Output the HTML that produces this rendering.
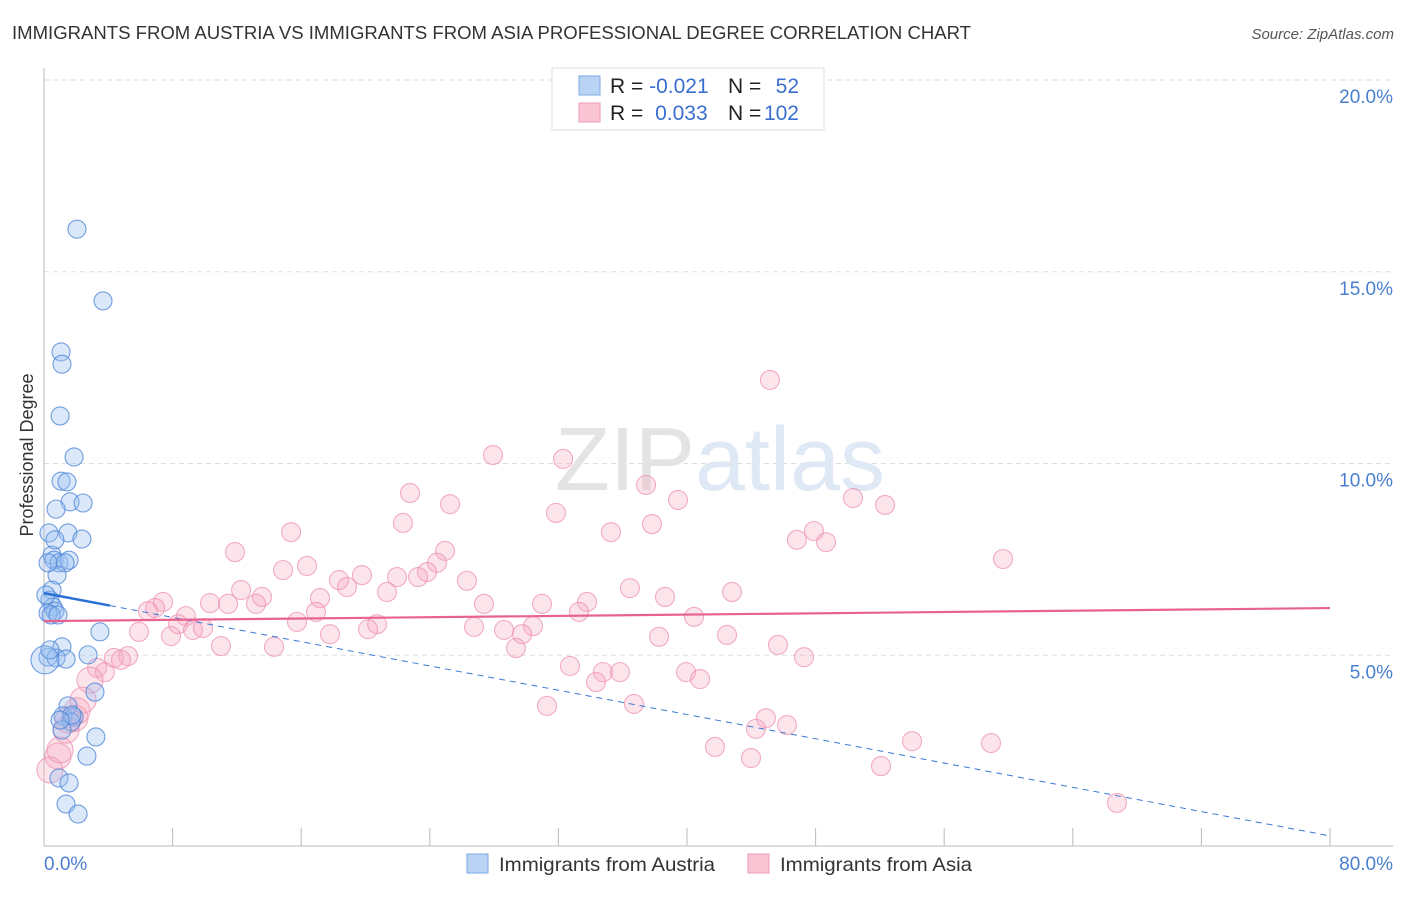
<!DOCTYPE html>
<html><head><meta charset="utf-8"><style>
body{margin:0;background:#fff;font-family:"Liberation Sans",sans-serif}
svg text{font-family:"Liberation Sans",sans-serif}
</style></head><body>
<svg id="chart" width="1406" height="892" xmlns="http://www.w3.org/2000/svg">
<text x="12" y="39" font-size="18.6" fill="#333" textLength="959" lengthAdjust="spacingAndGlyphs">IMMIGRANTS FROM AUSTRIA VS IMMIGRANTS FROM ASIA PROFESSIONAL DEGREE CORRELATION CHART</text>
<text x="1394" y="39" font-size="15" fill="#555" font-style="italic" text-anchor="end">Source: ZipAtlas.com</text>
<g id="grid"></g>
<text x="720" y="490" font-size="90" text-anchor="middle" fill="#e8e8e8" font-family="Liberation Serif"><tspan fill="#e4e4e4">ZIP</tspan><tspan fill="#dfe8f5" font-family="Liberation Sans">atlas</tspan></text>
<g id="axes"></g>
<g id="pts"></g>
<g id="trends"></g>
<text transform="translate(33,455) rotate(-90)" font-size="18" fill="#333" text-anchor="middle">Professional Degree</text>
<text x="44" y="870" font-size="19" fill="#4a7fd0">0.0%</text>
<text x="1393" y="870" font-size="19" fill="#4a7fd0" text-anchor="end">80.0%</text>
<g>
<rect x="552" y="68" width="272" height="62" fill="#fff" stroke="#ddd"/>
<rect x="579" y="76" width="21" height="19" fill="#b9d3f5" stroke="#7aa8e6"/>
<rect x="579" y="103" width="21" height="19" fill="#f9c5d4" stroke="#ee9ab3"/>
<text x="610" y="93" font-size="21" fill="#222">R = <tspan fill="#3a6fd0">-0.021</tspan></text>
<text x="728" y="93" font-size="21" fill="#222">N = </text><text x="799" y="93" font-size="21" fill="#3a6fd0" text-anchor="end">52</text>
<text x="610" y="120" font-size="21" fill="#222">R = <tspan fill="#3a6fd0" dx="6">0.033</tspan></text>
<text x="728" y="120" font-size="21" fill="#222">N = </text><text x="799" y="120" font-size="21" fill="#3a6fd0" text-anchor="end">102</text>
</g>
<g>
<rect x="467" y="854" width="21" height="19" fill="#b9d3f5" stroke="#7aa8e6"/>
<text x="499" y="871" font-size="19.8" fill="#333" textLength="216" lengthAdjust="spacingAndGlyphs">Immigrants from Austria</text>
<rect x="748" y="854" width="21" height="19" fill="#f9c5d4" stroke="#ee9ab3"/>
<text x="780" y="871" font-size="19.8" fill="#333" textLength="192" lengthAdjust="spacingAndGlyphs">Immigrants from Asia</text>
</g>
</svg>
<script>
const yTicks=[5,10,15,20];
const yTickLabels=["5.0%","10.0%","15.0%","20.0%"];
const austriaX=[2.05,3.67,1.06,1.12,1.0,1.87,1.06,1.43,1.62,2.43,0.75,1.49,2.36,0.31,0.5,0.62,0.93,1.56,1.31,0.81,0.5,0.37,0.56,0.68,0.25,0.44,3.48,1.12,2.74,0.25,0.75,1.37,0.06,3.17,1.49,1.18,1.87,1.68,1.12,3.23,2.67,0.93,1.56,1.37,2.12,0.25,0.87,0.12,0.37,1.74,1.0,0.68];
const austriaY=[16.11,14.24,12.91,12.59,11.24,10.17,9.54,9.52,9.0,8.97,8.81,8.19,8.03,8.19,7.61,7.48,7.41,7.48,7.41,7.09,6.7,6.44,6.26,6.15,6.1,6.05,5.61,5.22,5.01,4.95,4.93,4.9,4.88,4.04,3.68,3.42,3.39,3.26,3.05,2.87,2.37,1.8,1.67,1.12,0.86,7.41,6.05,6.57,5.14,3.44,3.31,8.01];
const asiaX=[45.16,27.93,32.29,22.77,25.26,37.45,39.44,50.33,52.32,31.85,22.33,37.82,35.27,15.37,47.9,46.84,48.65,24.95,11.88,59.66,16.36,14.87,24.45,23.83,19.78,18.35,23.27,21.96,26.31,18.85,36.45,12.26,21.34,42.8,13.56,38.63,13.19,10.33,11.45,27.37,30.98,7.4,6.91,33.78,6.47,17.17,16.92,33.28,8.83,40.44,8.34,20.72,15.74,20.16,26.75,30.42,28.62,29.74,9.27,9.89,5.91,7.9,17.79,38.26,42.49,29.36,11.01,14.31,45.66,47.28,5.23,4.35,4.79,3.3,3.79,32.72,34.77,35.83,34.34,39.94,40.81,2.86,2.43,31.29,36.7,44.91,46.22,44.29,1.93,1.37,54.0,41.74,58.91,43.98,52.07,0.87,0.37,66.75,2.05,1.0,1.49];
const asiaY=[12.18,10.22,10.12,9.23,8.94,9.44,9.05,9.1,8.92,8.71,8.45,8.42,8.21,8.21,8.24,8.01,7.95,7.72,7.69,7.51,7.33,7.22,7.41,7.17,7.09,6.96,7.04,7.04,6.94,6.78,6.75,6.7,6.65,6.65,6.52,6.52,6.34,6.36,6.34,6.34,6.34,6.39,6.23,6.39,6.15,6.49,6.13,6.13,6.02,6.0,5.81,5.81,5.87,5.68,5.74,5.76,5.66,5.55,5.66,5.71,5.61,5.5,5.55,5.48,5.53,5.19,5.24,5.22,5.27,4.95,4.98,4.93,4.88,4.67,4.56,4.72,4.56,4.56,4.3,4.56,4.38,4.35,3.83,3.68,3.73,3.36,3.18,3.08,3.36,3.05,2.76,2.61,2.71,2.32,2.11,2.37,2.01,1.15,3.55,2.53,3.31];
const austriaTrend=[6.62,0.29];
const asiaTrend=[5.89,6.23];
const X=v=>44+v*1286/80, Y=v=>847-v*38.35;
const NS="http://www.w3.org/2000/svg";
function mk(t,a,p){const e=document.createElementNS(NS,t);for(const k in a)e.setAttribute(k,a[k]);p.appendChild(e);return e;}
const grid=document.getElementById('grid'),axes=document.getElementById('axes');
yTicks.forEach((t,i)=>{
  const l=mk('line',{x1:44,x2:1393,y1:Y(t),y2:Y(t),stroke:'#ddd','stroke-dasharray':'5,4'},grid);
  
  
  const tx=mk('text',{x:1393,y:Y(t)+23,'font-size':19,fill:'#4a7fd0','text-anchor':'end'},axes);
  tx.textContent=yTickLabels[i];
  
  
});
const ax=mk('line',{x1:44,x2:44,y1:68,y2:846,stroke:'#bbb'},axes);


const bx=mk('line',{x1:44,x2:1393,y1:846,y2:846,stroke:'#bbb'},axes);


for(let i=0;i<=10;i++){const t=mk('line',{x1:X(i*8),x2:X(i*8),y1:828,y2:846,stroke:'#bbb'},axes);
  
  }
const pts=document.getElementById('pts');
asiaX.forEach((x,i)=>{const r=(x<3&&asiaY[i]<4.5)?13:9.5;
  const c=mk('circle',{cx:X(x),cy:Y(asiaY[i]),r:r,fill:'rgba(244,165,190,0.3)',stroke:'rgba(236,140,172,0.7)','stroke-width':1.1},pts);
  
  });
austriaX.forEach((x,i)=>{const r=i==32?14:9;
  const c=mk('circle',{cx:X(x),cy:Y(austriaY[i]),r:r,fill:'rgba(150,190,240,0.35)',stroke:'rgba(80,135,215,0.8)','stroke-width':1.1},pts);
  
  });
const tr=document.getElementById('trends');
const at=v=>austriaTrend[0]+(austriaTrend[1]-austriaTrend[0])*v/80;
let l=mk('line',{x1:X(4.1),y1:Y(at(4.1)),x2:X(80),y2:Y(at(80)),stroke:'#3a78d8','stroke-width':1,'stroke-dasharray':'6,5'},tr);


l=mk('line',{x1:X(0),y1:Y(at(0)),x2:X(4.1),y2:Y(at(4.1)),stroke:'#2a6fd6','stroke-width':2.5},tr);


l=mk('line',{x1:X(0),y1:Y(asiaTrend[0]),x2:X(80),y2:Y(asiaTrend[1]),stroke:'#e8628f','stroke-width':2.2},tr);


</script>
</body></html>
